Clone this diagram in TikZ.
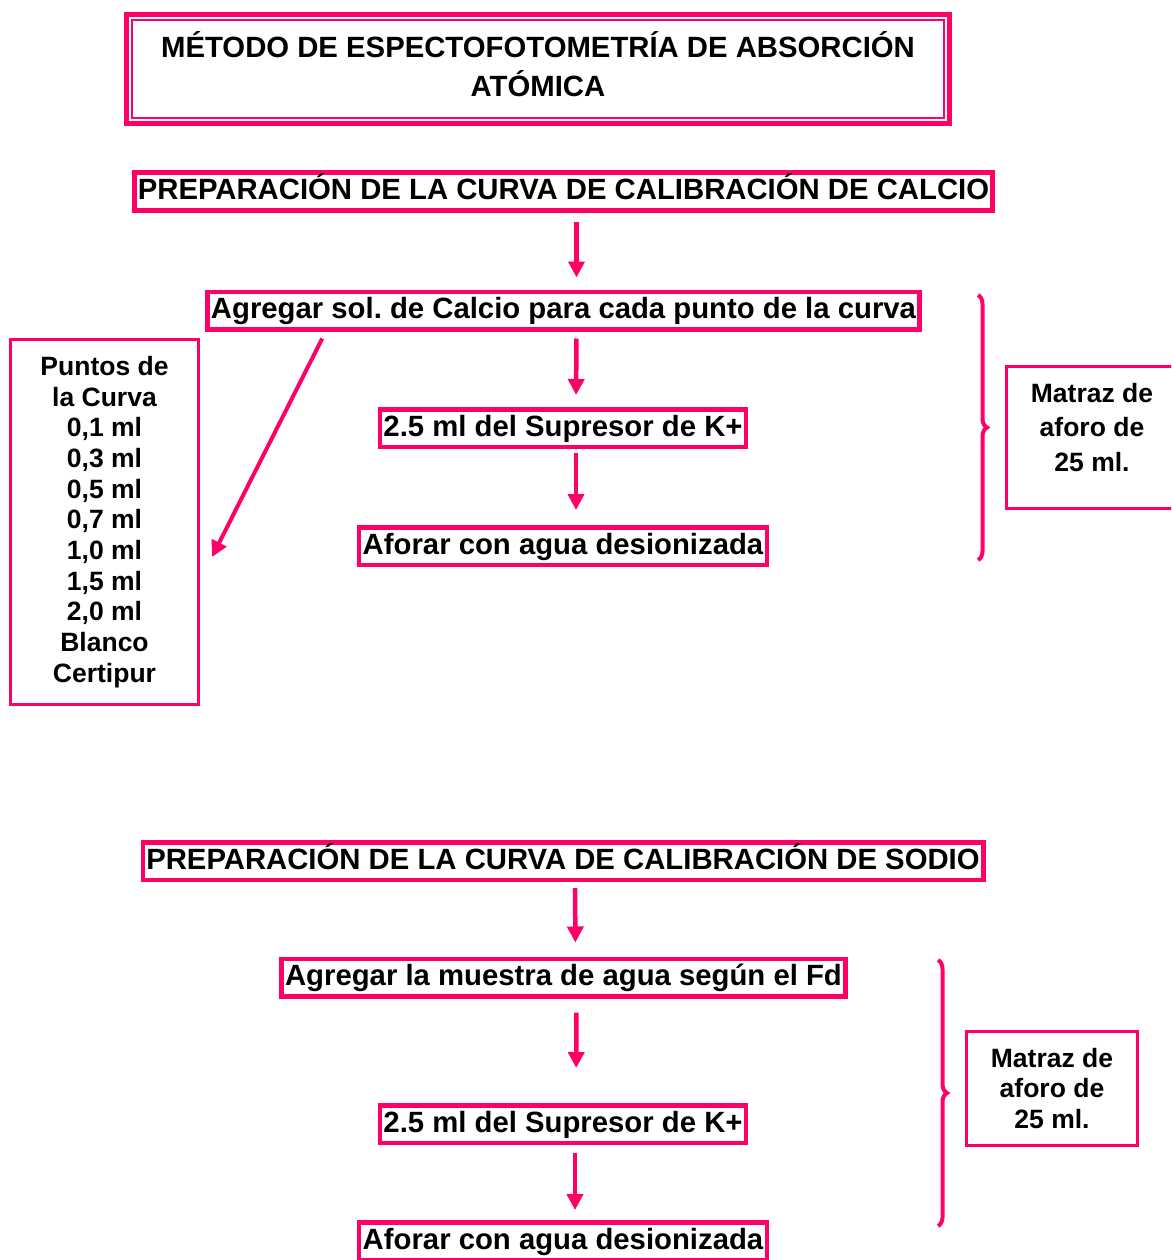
\documentclass[tikz,border=0pt]{standalone}
\usepackage{fontspec}
\setmainfont{Liberation Sans}
\frenchspacing
\usetikzlibrary{arrows.meta,calc,decorations.pathreplacing}
\definecolor{rosa}{HTML}{FF0066}

\begin{document}
\begin{tikzpicture}[x=1pt,y=-1pt,
        caja/.style={draw=rosa,line width=4.5pt,inner xsep=3.5pt,inner ysep=3.75pt,
            text height=23pt,text depth=7pt,font=\bfseries\fontsize{29.3}{35}\selectfont},
        lateral/.style={draw=rosa,line width=3pt,align=center,inner sep=0pt},
        flecha/.style={draw=rosa,line width=4.5pt,-{Triangle[width=16pt,length=16pt]}},
        llave/.style={draw=rosa,line width=4pt,decorate,decoration={brace,amplitude=9pt}}]
                \clip (0,0) rectangle (1171,1260);
                \node[draw=rosa,line width=5pt,minimum width=823pt,minimum height=109pt] (titulo) at (538,69) {};
                \draw [rosa,line width=2pt] ($(titulo.north west)+(8,8)$) rectangle ($(titulo.south east)+(-8,-8)$);
                \node[align=center,inner sep=0pt,font=\bfseries\fontsize{29.3}{39}\selectfont] (txttitulo)
                    at (538,64) {MÉTODO DE ESPECTOFOTOMETRÍA DE ABSORCIÓN\\ATÓMICA};

                \node[caja] (calcio) at (563.5,191.5) {PREPARACIÓN DE LA CURVA DE CALIBRACIÓN DE CALCIO};
                \node[caja] (agr1) at (563.5,310.5) {Agregar sol. de Calcio para cada punto de la curva};
                \node[caja] (sup1) at (563,428) {2.5 ml del Supresor de K+};
                \node[caja] (afo1) at (563,546) {Aforar con agua desionizada};
                \draw [flecha,shorten <=9pt,shorten >=12pt] ($(calcio.south)+(13,0)$) -- ($(agr1.north)+(13,0)$);
                \draw [flecha,shorten <=7pt,shorten >=12pt] ($(agr1.south)+(13,0)$) -- ($(sup1.north)+(13,0)$);
                \draw [flecha,shorten <=4pt,shorten >=15pt] ($(sup1.south)+(13,0)$) -- ($(afo1.north)+(13,0)$);

                \node[lateral,minimum width=188pt,minimum height=365pt,
                    font=\bfseries\fontsize{26.5}{30.7}\selectfont] (puntos) at (104.5,522)
                    {Puntos de\\la Curva\\0,1 ml\\0,3 ml\\0,5 ml\\0,7 ml\\1,0 ml\\1,5 ml\\2,0 ml\\Blanco\\Certipur};
                \draw [flecha,line width=4pt] ($(agr1.south west)+(117,7)$) -- ($(puntos.east)+(12,35)$);

                \coordinate (llave1a) at (978,295);
                \coordinate (llave1b) at (978,560);
                \draw [llave] (llave1a) -- (llave1b);
                \node[lateral,minimum width=171pt,minimum height=142pt] (matraz1) at (1092,437.5) {};
                \node[align=center,inner sep=0pt,font=\bfseries\fontsize{26.5}{34.5}\selectfont] (txtmatraz1)
                    at (1092,427.5) {Matraz de\\aforo de\\25 ml.};

                \node[caja] (sodio) at (563,861) {PREPARACIÓN DE LA CURVA DE CALIBRACIÓN DE SODIO};
                \node[caja] (agr2) at (563.5,977.5) {Agregar la muestra de agua según el Fd};
                \node[caja] (sup2) at (563,1124) {2.5 ml del Supresor de K+};
                \node[caja] (afo2) at (563,1241) {Aforar con agua desionizada};
                \draw [flecha,shorten <=6pt,shorten >=14pt] ($(sodio.south)+(12,0)$) -- ($(agr2.north)+(12,0)$);
                \draw [flecha,shorten <=14pt,shorten >=35pt] ($(agr2.south)+(13,0)$) -- ($(sup2.north)+(13,0)$);
                \draw [flecha,shorten <=8pt,shorten >=10pt] ($(sup2.south)+(12,0)$) -- ($(afo2.north)+(12,0)$);

                \coordinate (llave2a) at (938,960);
                \coordinate (llave2b) at (938,1226);
                \draw [llave] (llave2a) -- (llave2b);
                \node[lateral,minimum width=171pt,minimum height=114pt,
                    font=\bfseries\fontsize{26.5}{30.5}\selectfont] (matraz2) at (1052,1088.5)
                    {Matraz de\\aforo de\\25 ml.};
            \end{tikzpicture}
\end{document}
